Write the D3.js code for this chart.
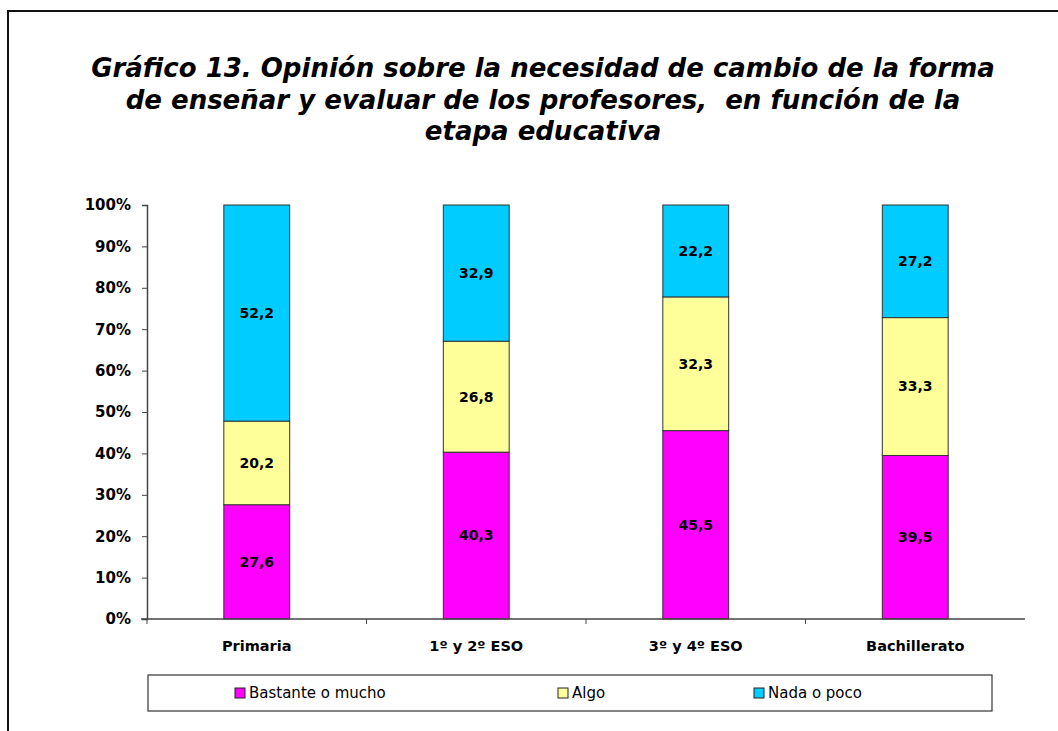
<!DOCTYPE html>
<html>
<head>
<meta charset="utf-8">
<script src="https://cdn.jsdelivr.net/npm/d3@7"></script>
<style>
  html, body { margin: 0; padding: 0; background: white; overflow: hidden; }
  text { font-family: "DejaVu Sans", Verdana, sans-serif; }
</style>
</head>
<body>
<div id="chart"></div>
<script>
// data
const categories = ["Primaria", "1º y 2º ESO", "3º y 4º ESO", "Bachillerato"];
const seriesNames = ["Bastante o mucho", "Algo", "Nada o poco"];
const bastante = [27.6, 40.3, 45.5, 39.5];
const algo = [20.2, 26.8, 32.3, 33.3];
const nada = [52.2, 32.9, 22.2, 27.2];
const yTicks = [0, 10, 20, 30, 40, 50, 60, 70, 80, 90, 100];
const titleLines = [
    "Gráfico 13. Opinión sobre la necesidad de cambio de la forma",
    "de enseñar y evaluar de los profesores,  en función de la",
    "etapa educativa"
];

render();

function render() {
    const width = 1058, height = 731;
    const colors = ["#FF00FF", "#FFFF99", "#00CCFF"];

    const svg = d3.select("#chart").append("svg")
        .attr("width", width)
        .attr("height", height);

    // outer frame (runs past right and bottom edges)
    svg.append("rect")
        .attr("x", 8).attr("y", 11)
        .attr("width", 1200).attr("height", 900)
        .attr("fill", "white")
        .attr("stroke", "#111")
        .attr("stroke-width", 2);

    // title
    svg.append("g").selectAll("text")
        .data(titleLines)
        .enter().append("text")
        .attr("x", 543)
        .attr("y", (d, i) => 77 + i * 31.5)
        .attr("text-anchor", "middle")
        .style("white-space", "pre")
        .style("font-size", "26px")
        .style("font-weight", "bold")
        .style("font-style", "italic")
        .text(d => d);

    const plot = {left: 147, right: 1025, top: 205, bottom: 619};

    const rows = categories.map((c, i) => ({
        cat: c, "Bastante o mucho": bastante[i], "Algo": algo[i], "Nada o poco": nada[i]
    }));
    const stacked = d3.stack().keys(seriesNames)(rows);

    const x = d3.scaleBand()
        .domain(categories)
        .range([plot.left, plot.right])
        .paddingInner(0.7)
        .paddingOuter(0.35);

    const xCat = d3.scaleBand()
        .domain(categories)
        .range([plot.left, plot.right]);

    const y = d3.scaleLinear()
        .domain([0, 100])
        .range([plot.bottom, plot.top]);

    // bars
    const layers = svg.append("g").selectAll("g")
        .data(stacked)
        .enter().append("g")
        .attr("fill", (d, i) => colors[i]);

    layers.selectAll("rect")
        .data(d => d)
        .enter().append("rect")
        .attr("x", d => x(d.data.cat))
        .attr("width", x.bandwidth())
        .attr("y", d => y(d[1]))
        .attr("height", d => y(d[0]) - y(d[1]))
        .attr("stroke", "#333")
        .attr("stroke-width", 1);

    // value labels
    layers.selectAll("text")
        .data(d => d)
        .enter().append("text")
        .attr("x", d => x(d.data.cat) + x.bandwidth() / 2)
        .attr("y", d => (y(d[0]) + y(d[1])) / 2)
        .attr("dy", "0.35em")
        .attr("text-anchor", "middle")
        .style("font-size", "14px")
        .style("font-weight", "bold")
        .attr("fill", "black")
        .text(d => String((d[1] - d[0]).toFixed(1)).replace(".", ","));

    // y axis
    const yAxis = svg.append("g")
        .attr("transform", `translate(${plot.left},0)`)
        .call(d3.axisLeft(y).tickValues(yTicks).tickFormat(d => d + "%").tickSize(5).tickPadding(11));
    yAxis.select(".domain").attr("stroke", "#444").attr("stroke-width", 1.5);
    yAxis.selectAll(".tick line").attr("stroke", "#444");
    yAxis.selectAll("text")
        .style("font-size", "15px")
        .style("font-weight", "bold")
        .attr("fill", "black");

    // x axis
    const xAxis = svg.append("g")
        .attr("transform", `translate(0,${plot.bottom})`);
    xAxis.append("line")
        .attr("x1", plot.left - 6).attr("x2", plot.right)
        .attr("stroke", "#444").attr("stroke-width", 1.5);
    xAxis.selectAll(".cattick")
        .data(categories)
        .enter().append("line")
        .attr("x1", d => xCat(d)).attr("x2", d => xCat(d))
        .attr("y1", 0).attr("y2", 5)
        .attr("stroke", "#444");
    xAxis.selectAll(".catlabel")
        .data(categories)
        .enter().append("text")
        .attr("x", d => xCat(d) + xCat.bandwidth() / 2)
        .attr("y", 32)
        .attr("text-anchor", "middle")
        .style("font-size", "14.5px")
        .style("font-weight", "bold")
        .attr("fill", "black")
        .text(d => d);

    // legend
    const legend = svg.append("g");
    legend.append("rect")
        .attr("x", 148).attr("y", 675)
        .attr("width", 844).attr("height", 36)
        .attr("fill", "white")
        .attr("stroke", "#333")
        .attr("stroke-width", 1.2);
    const legendX = [235, 558, 754];
    const items = legend.selectAll(".item")
        .data(seriesNames)
        .enter().append("g")
        .attr("transform", (d, i) => `translate(${legendX[i]},693)`);
    items.append("rect")
        .attr("x", 0).attr("y", -5)
        .attr("width", 10).attr("height", 10)
        .attr("fill", (d, i) => colors[i])
        .attr("stroke", "#222");
    items.append("text")
        .attr("x", 14)
        .attr("dy", "0.36em")
        .style("font-size", "15px")
        .attr("fill", "black")
        .text(d => d);
}
</script>
</body>
</html>
